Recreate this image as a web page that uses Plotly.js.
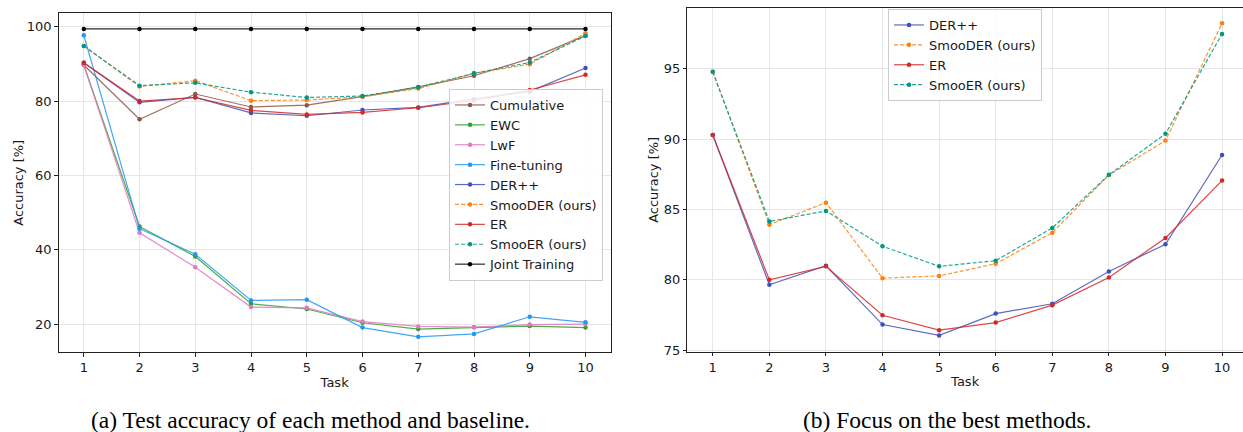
<!DOCTYPE html>
<html>
<head>
<meta charset="utf-8">
<script src="https://cdn.plot.ly/plotly-3.0.1.min.js"></script>
<style>html,body{margin:0;padding:0;background:#fff;}#chart{width:1243px;height:432px;}</style>
</head>
<body>
<div id="chart"></div>
<script>
// ---- data ----
const tasks = [1, 2, 3, 4, 5, 6, 7, 8, 9, 10];
const cumulative = [89.7, 75.1, 81.9, 78.4, 78.9, 81.2, 83.8, 86.8, 91.4, 97.6];
const ewc = [89.7, 46.3, 38.2, 25.5, 24.1, 20.4, 18.7, 19.2, 19.5, 19.1];
const lwf = [89.7, 44.6, 35.3, 24.6, 24.4, 20.7, 19.4, 19.2, 19.9, 20.0];
const fineTuning = [97.7, 45.7, 38.8, 26.4, 26.6, 19.1, 16.6, 17.4, 22.0, 20.5];
const derpp = [90.3, 79.65, 81.0, 76.82, 76.05, 77.6, 78.3, 80.59, 82.53, 88.88];
const smooder = [94.8, 83.92, 85.49, 80.12, 80.28, 81.15, 83.35, 87.45, 89.9, 98.24];
const er = [90.3, 80.0, 80.96, 77.48, 76.42, 76.96, 78.2, 80.16, 82.98, 87.06];
const smooer = [94.8, 84.15, 84.9, 82.39, 80.96, 81.36, 83.69, 87.47, 90.38, 97.49];
const joint = [99.4, 99.4, 99.4, 99.4, 99.4, 99.4, 99.4, 99.4, 99.4, 99.4];
const leftTicksY = [20, 40, 60, 80, 100];
const rightTicksY = [75, 80, 85, 90, 95];
const captionA = "(a) Test accuracy of each method and baseline.";
const captionB = "(b) Focus on the best methods.";

const W = 1243, H = 432;
function hexA(hex, a) {
  const n = parseInt(hex.slice(1), 16);
  return `rgba(${(n >> 16) & 255},${(n >> 8) & 255},${n & 255},${a})`;
}
function tr(name, y, color, dash, xa, ya, legend) {
  return {
    x: tasks, y: y, name: name, type: 'scatter', mode: 'lines+markers',
    xaxis: xa, yaxis: ya, legend: legend,
    line: {color: hexA(color, 0.85), width: 1.2, dash: dash ? '4px,2px' : 'solid'},
    marker: {color: color, size: 4.5}
  };
}
const C = {
  cum: '#8c564b', ewc: '#2ca02c', lwf: '#e377c2', ft: '#2196f3',
  der: '#3f51b5', sder: '#ff7f0e', er: '#d62728', ser: '#009688', joint: '#000000'
};
const data = [
  tr('Cumulative', cumulative, C.cum, false, 'x', 'y', 'legend'),
  tr('EWC', ewc, C.ewc, false, 'x', 'y', 'legend'),
  tr('LwF', lwf, C.lwf, false, 'x', 'y', 'legend'),
  tr('Fine-tuning', fineTuning, C.ft, false, 'x', 'y', 'legend'),
  tr('DER++', derpp, C.der, false, 'x', 'y', 'legend'),
  tr('SmooDER (ours)', smooder, C.sder, true, 'x', 'y', 'legend'),
  tr('ER', er, C.er, false, 'x', 'y', 'legend'),
  tr('SmooER (ours)', smooer, C.ser, true, 'x', 'y', 'legend'),
  tr('Joint Training', joint, C.joint, false, 'x', 'y', 'legend'),
  tr('DER++', derpp, C.der, false, 'x2', 'y2', 'legend2'),
  tr('SmooDER (ours)', smooder, C.sder, true, 'x2', 'y2', 'legend2'),
  tr('ER', er, C.er, false, 'x2', 'y2', 'legend2'),
  tr('SmooER (ours)', smooer, C.ser, true, 'x2', 'y2', 'legend2')
];
const font = {family: 'DejaVu Sans', size: 13, color: '#1a1a1a'};
const capFont = {family: 'Liberation Serif', size: 23.5, color: '#000'};
const axBase = {
  showgrid: true, gridcolor: '#e6e6e6', gridwidth: 1, zeroline: false,
  showline: true, linecolor: '#222', linewidth: 1,
  ticks: 'outside', ticklen: 3.5, tickwidth: 1, tickcolor: '#222',
  tickfont: font
};
const legBase = {
  bgcolor: 'rgba(255,255,255,0.85)', bordercolor: '#cccccc', borderwidth: 1,
  font: font, xanchor: 'left', yanchor: 'top'
};
const layout = {
  width: W, height: H, margin: {l: 0, r: 0, t: 0, b: 0},
  paper_bgcolor: '#fff', plot_bgcolor: '#fff', font: font,
  xaxis: Object.assign({}, axBase, {
    domain: [58.7 / W, 610.6 / W], range: [0.55, 10.45], tickvals: tasks, mirror: true,
    title: {text: 'Task', font: font, standoff: 3}
  }),
  yaxis: Object.assign({}, axBase, {
    domain: [(H - 352.3) / H, (H - 13.3) / H], range: [12.45, 103.6], tickvals: leftTicksY, mirror: true,
    title: {text: 'Accuracy [%]', font: font, standoff: 0}
  }),
  xaxis2: Object.assign({}, axBase, {
    domain: [687.3 / W, 1], range: [0.55, 10.37], tickvals: tasks, mirror: true, anchor: 'y2',
    title: {text: 'Task', font: font, standoff: 3}
  }),
  yaxis2: Object.assign({}, axBase, {
    domain: [(H - 351.7) / H, (H - 8) / H], range: [74.89, 99.33], tickvals: rightTicksY, anchor: 'x2',
    title: {text: 'Accuracy [%]', font: font, standoff: 2}
  }),
  legend: Object.assign({}, legBase, {x: 449 / W, y: 1 - 89 / H}),
  legend2: Object.assign({}, legBase, {x: 888 / W, y: 1 - 9 / H}),
  annotations: [
    {text: captionA, xref: 'paper', yref: 'paper', x: 310.5 / W, y: 1 - 420 / H, showarrow: false,
     xanchor: 'center', yanchor: 'middle', font: capFont},
    {text: captionB, xref: 'paper', yref: 'paper', x: 947.5 / W, y: 1 - 420 / H, showarrow: false,
     xanchor: 'center', yanchor: 'middle', font: capFont}
  ],
  showlegend: true
};
Plotly.newPlot('chart', data, layout, {staticPlot: true, displayModeBar: false});
</script>
</body>
</html>
